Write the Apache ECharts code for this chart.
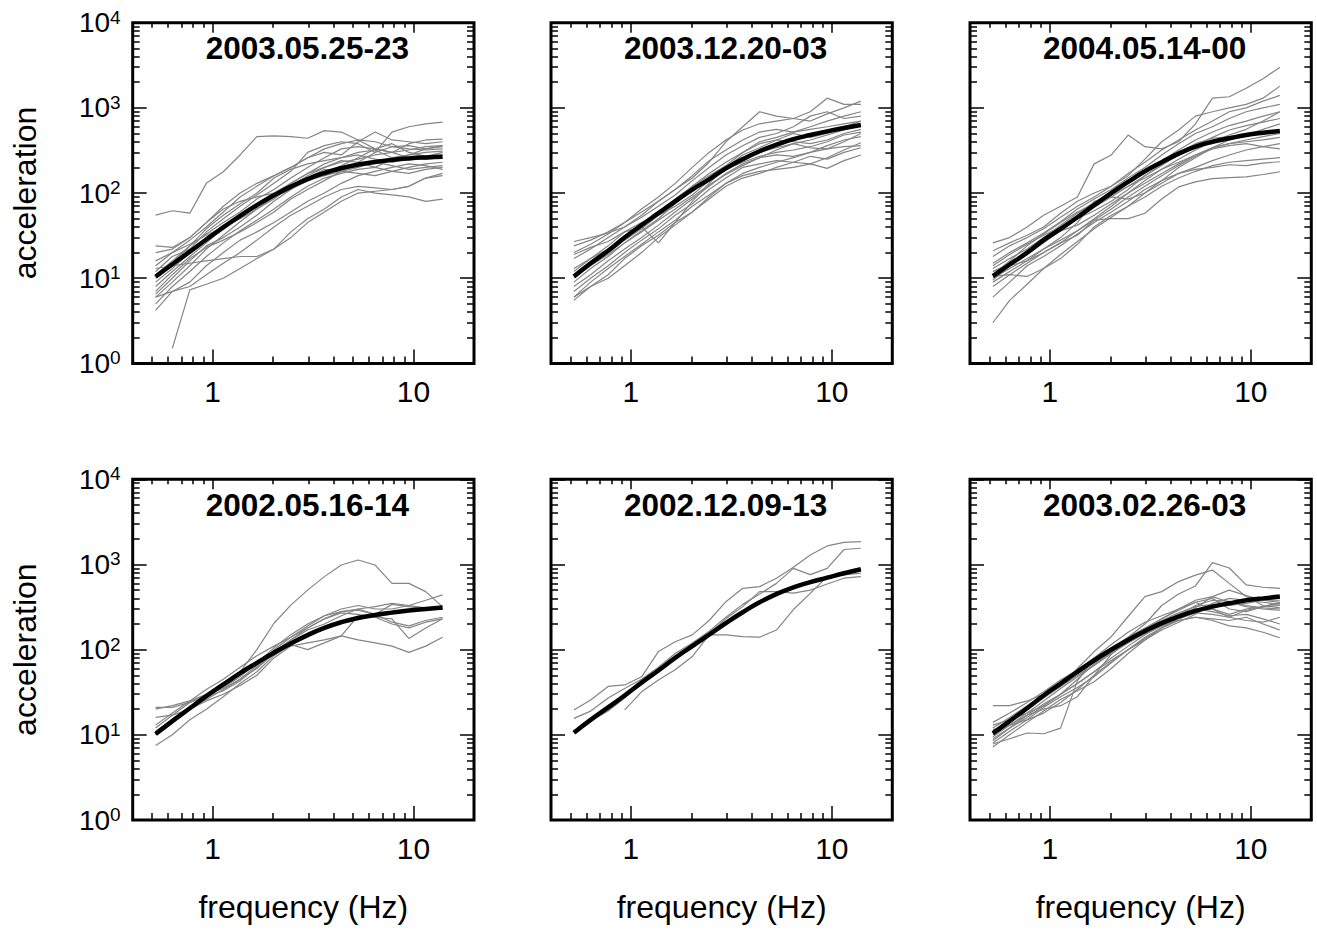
<!DOCTYPE html>
<html><head><meta charset="utf-8">
<script src="https://cdn.jsdelivr.net/npm/echarts@6/dist/echarts.min.js"></script>
<style>html,body{margin:0;padding:0;background:#fff}#c{width:1317px;height:931px}</style>
</head><body><div id="c"></div>
<script>
// ---------------- data ----------------
const freq = [0.52,0.63,0.77,0.93,1.13,1.37,1.66,2.02,2.45,2.97,3.6,4.37,5.3,6.44,7.81,9.48,11.5,13.95];
const titles = ['2003.05.25-23','2003.12.20-03','2004.05.14-00','2002.05.16-14','2002.12.09-13','2003.02.26-03'];
const xAxisName = 'frequency (Hz)';
const yAxisName = 'acceleration';
const xMajorTicks = [1, 10];
const xTickLabels = ['1', '10'];
const xMinorTicks = [0.5,0.6,0.7,0.8,0.9,2,3,4,5,6,7,8,9];
const yMajorTicks = [1, 10, 100, 1000, 10000];
const yTickExponents = ['0','1','2','3','4'];
const yMinorTicks = [2,3,4,5,6,7,8,9,20,30,40,50,60,70,80,90,200,300,400,500,600,700,800,900,2000,3000,4000,5000,6000,7000,8000,9000];

// 2003.05.25-23
const fit_20030525 = [10.4,14.6,20.5,28.5,39.5,54,72,94,119,146,172,196,216,232,245,255,262,267];
const obs_20030525 = [
 [55,62,58,130,178,280,460,470,460,440,540,520,420,330,300,260,250,260],
 [24,23,30,45,70,100,130,160,200,260,330,380,420,400,350,330,320,330],
 [14,20,28,40,60,90,120,160,200,260,300,280,400,520,420,400,380,400],
 [12,18,22,35,50,70,95,130,180,300,360,400,380,300,520,600,650,680],
 [10,15,24,33,45,60,85,110,150,200,260,330,350,330,300,380,420,430],
 [8,12,18,26,38,55,75,100,130,170,220,260,300,320,260,280,330,360],
 [6,9,14,22,32,46,65,85,120,160,200,240,230,200,250,280,300,310],
 [6.5,10,16,24,30,40,55,80,110,150,190,180,200,230,210,190,200,210],
 [5,8,12,18,26,36,48,65,90,120,150,170,190,200,180,170,190,200],
 [4.2,7,8,11,15,20,28,40,55,70,90,110,120,115,110,120,150,160],
 [null,1.5,7.3,8.5,10,13,17,22,30,45,60,80,100,105,110,120,150,170],
 [13,14,15,16,17,18,18,22,35,50,65,90,110,100,95,90,80,85],
 [16,20,25,32,40,50,65,90,130,170,200,230,250,280,300,320,350,360],
 [11,16,24,38,55,75,100,150,190,220,240,260,280,250,230,250,270,280],
 [9,13,20,30,42,55,70,90,110,140,170,210,260,330,380,300,270,300],
 [7,11,17,23,28,35,45,60,85,110,140,180,230,300,350,360,330,350],
 [20,22,30,45,65,80,90,100,120,140,160,180,170,160,180,200,220,230],
 [6,7,9,14,20,28,35,45,60,80,100,130,160,180,200,220,210,190]
];
// 2003.12.20-03
const fit_20031220 = [10.5,15,21,30,42,58,80,110,145,195,250,310,370,430,480,530,580,630];
const obs_20031220 = [
 [27,30,34,40,55,80,110,150,230,400,600,900,800,750,900,1300,1100,1100],
 [24,28,35,45,65,90,130,200,300,420,550,650,700,750,700,850,1000,1200],
 [20,25,33,45,60,80,110,160,240,320,420,520,560,520,600,700,800,900],
 [17,22,30,40,52,70,95,140,200,280,360,450,500,600,800,900,750,800],
 [12,17,24,35,40,26,45,80,130,200,280,340,420,500,450,500,600,700],
 [11,15,20,28,38,55,80,120,170,230,300,380,420,400,380,420,500,560],
 [9,13,18,26,36,50,75,110,150,190,230,270,300,320,350,400,480,520],
 [8,11,16,22,30,42,60,85,120,170,220,260,280,270,300,330,400,500],
 [7,10,14,20,28,38,55,75,110,150,200,220,240,230,220,260,320,390],
 [6,9,13,18,25,35,48,70,95,130,160,180,190,200,220,195,240,280],
 [5.5,8,11,17,24,32,45,60,85,120,150,170,200,230,270,250,300,340],
 [6,8,10,14,20,30,42,60,90,130,170,200,230,260,300,360,420,460],
 [13,17,22,30,42,60,85,120,160,210,300,400,450,520,560,600,650,700],
 [10,14,19,26,35,48,65,90,125,165,210,260,320,380,420,480,550,620],
 [19,23,27,35,45,55,70,95,140,200,260,300,340,380,340,330,350,360]
];
// 2004.05.14-00
const fit_20040514 = [10.6,14.5,20,28,38,52,72,100,135,180,230,290,350,400,440,480,510,535];
const obs_20040514 = [
 [26,30,40,55,70,90,220,280,480,350,330,400,650,1300,1350,1700,2200,3000],
 [21,26,32,40,58,80,100,120,160,250,400,550,800,900,1000,1100,1300,1800],
 [18,24,30,38,52,70,90,120,170,230,320,420,550,700,900,1000,1200,1400],
 [15,20,26,34,46,65,85,110,150,200,280,380,500,600,750,900,1000,1100],
 [13,17,22,30,42,58,78,100,130,180,240,320,420,520,620,700,800,900],
 [12,15,19,26,36,50,68,90,120,160,210,280,360,450,550,620,680,750],
 [10.5,11,10.5,13,17,25,40,55,70,100,140,200,260,340,420,480,500,520],
 [9.5,14,20,28,36,42,55,75,100,130,170,220,280,340,380,400,420,450],
 [9,12,16,22,30,45,80,90,85,100,130,170,200,240,280,320,350,380],
 [8,11,15,20,26,32,48,50,50,58,85,118,135,148,152,155,165,178],
 [6,9,14,18,24,33,45,60,80,110,140,170,190,200,215,210,225,233],
 [3,5.5,8.5,13,19,27,38,52,70,90,120,150,180,210,230,240,250,260],
 [11,16,24,33,45,60,75,95,120,150,190,230,280,340,380,420,460,500],
 [14,19,25,32,40,50,62,80,110,160,220,300,380,440,460,480,560,650],
 [10,13,17,22,28,36,48,65,90,120,160,210,270,330,360,380,350,330],
 [12,14,16,20,26,36,50,70,100,140,190,250,320,400,480,560,700,900]
];
// 2002.05.16-14
const fit_20020516 = [10.2,14.5,20.5,28.5,39,53,70,92,118,148,180,210,235,255,272,288,300,312];
const obs_20020516 = [
 [11,15,21,28,38,55,100,204,333,500,720,985,1130,985,600,600,480,318],
 [20,22,25,30,35,45,65,100,140,190,250,300,330,300,300,330,380,440],
 [21,21,24,28,33,43,62,95,130,180,230,280,300,260,340,320,300,300],
 [16,17,20,25,30,38,50,80,110,120,130,145,250,240,200,180,210,230],
 [7.5,10,15,20,28,40,55,85,115,100,120,145,130,120,110,93,110,140],
 [12,17,24,30,36,48,70,105,150,200,250,280,290,260,210,190,220,240],
 [13,18,25,34,45,62,85,110,140,180,230,270,260,240,230,135,180,230],
 [10,14,20,26,34,45,60,90,130,170,200,250,300,320,350,330,310,300]
];
// 2002.12.09-13
const fit_20021209 = [10.6,15,21,29,41,57,80,110,150,205,275,360,450,540,620,700,790,880];
const obs_20021209 = [
 [19.6,25.7,37,38.5,48,95,124,149,220,366,525,550,690,927,1290,1650,1820,1850],
 [15.6,19,27,35,45,62,90,120,165,240,340,450,600,900,760,900,1500,1550],
 [null,null,null,19.6,32,44,58,83,149,149,142,140,170,296,458,720,755,790],
 [11,14.5,19,27,40,60,82,105,155,230,320,480,480,460,500,590,690,720]
];
// 2003.02.26-03
const fit_20030226 = [10.4,14.5,20.5,29,40,55,75,100,130,165,205,245,285,320,350,380,400,420];
const obs_20030226 = [
 [22,22,25,30,38,60,95,142,245,420,480,630,750,860,600,420,330,310],
 [12,16,22,30,40,55,80,100,140,200,330,450,560,1050,910,575,540,525],
 [7.8,9,10.5,10.3,12,43,80,115,160,210,250,300,380,420,360,320,300,290],
 [14,18,24,32,44,58,80,105,140,180,230,290,360,400,300,280,320,350],
 [11,15,21,29,39,52,70,92,125,165,210,260,300,280,250,260,230,200],
 [9.5,13,18,25,35,48,65,90,120,155,190,220,240,230,220,240,200,170],
 [8.5,12,16,22,30,40,55,75,100,140,180,220,240,220,190,180,160,138],
 [8,11,15,21,28,36,48,70,100,130,170,210,260,350,400,380,360,340],
 [13,15,18,22,30,45,68,95,130,170,220,270,320,340,330,350,380,380],
 [10,13,17,20,22,28,50,88,125,160,200,250,330,380,370,330,310,300],
 [7.2,10,14,19,26,33,42,60,90,130,180,240,310,420,500,430,380,360],
 [11.5,13,15,18,24,34,50,72,100,135,180,230,280,300,260,300,320,330],
 [9,12,17,23,30,40,55,80,110,150,190,230,270,260,240,220,210,240],
 [10.5,14,20,27,37,50,66,90,125,170,230,300,360,300,240,290,320,360]
];

const fitList = [fit_20030525, fit_20031220, fit_20040514, fit_20020516, fit_20021209, fit_20030226];
const obsList = [obs_20030525, obs_20031220, obs_20040514, obs_20020516, obs_20021209, obs_20030226];

// ---------------- layout / style ----------------
const xMin = 0.4, xMax = 20, yMin = 1, yMax = 10000;
const LOG = Math.log10;
const FONT = '"Liberation Sans", Arial, Helvetica, sans-serif';
const gridLefts = [132.7, 551, 970];
const gridTops = [22.7, 479.3];
const gridW = 341.3, gridH = 340.7;
const tickLine = {color: '#000', width: 1.5};

const grids = [], xAxes = [], yAxes = [], series = [], graphics = [];
for (let g = 0; g < 6; g++) {
  const col = g % 3, row = Math.floor(g / 3);
  grids.push({left: gridLefts[col], top: gridTops[row], width: gridW, height: gridH,
    show: true, borderColor: '#000', borderWidth: 3, backgroundColor: 'transparent',
    containLabel: false, outerBoundsMode: 'none'});

  // data axes (log scale, hidden)
  xAxes.push({type: 'log', logBase: 10, gridIndex: g, min: xMin, max: xMax, show: false});
  yAxes.push({type: 'log', logBase: 10, gridIndex: g, min: yMin, max: yMax, show: false});

  const xBase = {type: 'value', gridIndex: g, min: LOG(xMin), max: LOG(xMax),
    axisLine: {show: false, onZero: false}, splitLine: {show: false}, axisLabel: {show: false}};
  const yBase = {type: 'value', gridIndex: g, min: LOG(yMin), max: LOG(yMax),
    axisLine: {show: false, onZero: false}, splitLine: {show: false}, axisLabel: {show: false}};

  // bottom major (labels)
  xAxes.push(Object.assign({}, xBase, {position: 'bottom',
    axisTick: {show: true, inside: true, length: 14, customValues: xMajorTicks.map(LOG), lineStyle: tickLine},
    axisLabel: {show: true, customValues: xMajorTicks.map(LOG), margin: 13, color: '#000', fontSize: 30, fontFamily: FONT,
      formatter: function (v) { const i = xMajorTicks.findIndex(t => Math.abs(LOG(t) - v) < 1e-6); return i >= 0 ? xTickLabels[i] : ''; }},
    name: row === 1 ? xAxisName : '', nameLocation: 'middle', nameGap: 71, nameMoveOverlap: false,
    nameTextStyle: {color: '#000', fontSize: 32, fontFamily: FONT}}));
  // bottom minor
  xAxes.push(Object.assign({}, xBase, {position: 'bottom',
    axisTick: {show: true, inside: true, length: 7, customValues: xMinorTicks.map(LOG), lineStyle: tickLine}}));
  // top major / minor
  xAxes.push(Object.assign({}, xBase, {position: 'top',
    axisTick: {show: true, inside: true, length: 10, customValues: xMajorTicks.map(LOG), lineStyle: tickLine}}));
  xAxes.push(Object.assign({}, xBase, {position: 'top',
    axisTick: {show: true, inside: true, length: 5, customValues: xMinorTicks.map(LOG), lineStyle: tickLine}}));

  // left major (labels on first column)
  yAxes.push(Object.assign({}, yBase, {position: 'left',
    axisTick: {show: true, inside: true, length: 14, customValues: yMajorTicks.map(LOG), lineStyle: tickLine},
    axisLabel: {show: col === 0, customValues: yMajorTicks.map(LOG), margin: 12, color: '#000', fontFamily: FONT,
      formatter: function (v) { const i = yMajorTicks.findIndex(t => Math.abs(LOG(t) - v) < 1e-6); return '{b|10}{s|' + yTickExponents[i] + '}'; },
      rich: {b: {fontSize: 28, lineHeight: 30, fontFamily: FONT, color: '#000'},
             s: {fontSize: 19, lineHeight: 14, verticalAlign: 'top', fontFamily: FONT, color: '#000'}}},
    name: col === 0 ? yAxisName : '', nameLocation: 'middle', nameGap: 92, nameRotate: 90, nameMoveOverlap: false,
    nameTextStyle: {color: '#000', fontSize: 32, fontFamily: FONT}}));
  yAxes.push(Object.assign({}, yBase, {position: 'left',
    axisTick: {show: true, inside: true, length: 7, customValues: yMinorTicks.map(LOG), lineStyle: tickLine}}));
  // right major / minor
  yAxes.push(Object.assign({}, yBase, {position: 'right',
    axisTick: {show: true, inside: true, length: 14, customValues: yMajorTicks.map(LOG), lineStyle: tickLine}}));
  yAxes.push(Object.assign({}, yBase, {position: 'right',
    axisTick: {show: true, inside: true, length: 7, customValues: yMinorTicks.map(LOG), lineStyle: tickLine}}));

  // series
  obsList[g].forEach(function (vals) {
    const d = [];
    vals.forEach(function (v, i) { if (v !== null) d.push([freq[i], v]); });
    series.push({type: 'line', xAxisIndex: g * 5, yAxisIndex: g * 5, data: d, showSymbol: false, symbol: 'none',
      silent: true, lineStyle: {color: '#858585', width: 1.2}, z: 2});
  });
  series.push({type: 'line', xAxisIndex: g * 5, yAxisIndex: g * 5, smooth: true, showSymbol: false, symbol: 'none',
    silent: true, data: fitList[g].map((v, i) => [freq[i], v]), lineStyle: {color: '#000', width: 4.5}, z: 3});

  // panel title
  graphics.push({type: 'text', x: gridLefts[col] + gridW / 2 + 4, y: gridTops[row] + 25.6, z: 10,
    style: {text: titles[g], fill: '#000', font: 'bold 31.5px ' + FONT, textAlign: 'center', textVerticalAlign: 'middle'}});
}

const chart = echarts.init(document.getElementById('c'), null, {renderer: 'svg', width: 1317, height: 931});
chart.setOption({
  animation: false,
  backgroundColor: '#fff',
  grid: grids,
  xAxis: xAxes,
  yAxis: yAxes,
  series: series,
  graphic: graphics
});
</script>
</body></html>
